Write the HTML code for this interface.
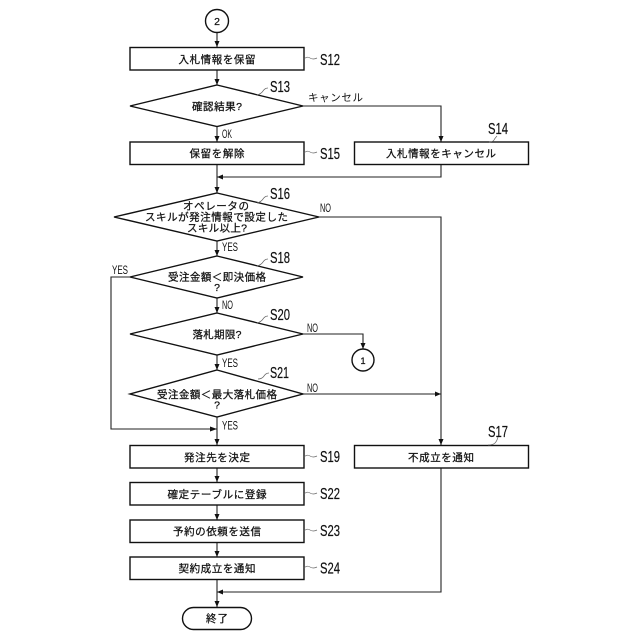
<!DOCTYPE html>
<html><head><meta charset="utf-8"><style>
html,body{margin:0;padding:0;background:#fff}
svg{display:block}
text{font-family:"Liberation Sans","Noto Sans CJK JP",sans-serif;fill:#111}
.j{font-size:10.5px;text-anchor:middle;stroke:#111;stroke-width:.25}
.s{font-size:16px;stroke:#111;stroke-width:.2}
.l{font-size:12px}
.b{fill:#fff;stroke:#111;stroke-width:1.4}
.c{fill:none;stroke:#222;stroke-width:1.1}
.w{fill:none;stroke:#666;stroke-width:.7}
.a{fill:#111;stroke:none}
</style></head><body>
<svg width="640" height="640" viewBox="0 0 640 640" xmlns="http://www.w3.org/2000/svg">
<!-- connectors -->
<path class="c" d="M217 32V47M217 70V85M217 126V142M217 164V193M441 165V177H217M217 241V256M217 298V313M217 355V370M217 417V445M217 468V482M217 505V520M217 542V557M217 579V607M441 468V592H217M303 106H441V142M319 217H441V445M303 334H363V349M303 394H441M130 277H111V429H217"/>
<!-- arrowheads -->
<path class="a" d="M214.500 41L219.500 41L217 47ZM214.500 79L219.500 79L217 85ZM214.500 136L219.500 136L217 142ZM438.500 136L443.500 136L441 142ZM223 174.500L223 179.500L217 177ZM214.500 187L219.500 187L217 193ZM214.500 250L219.500 250L217 256ZM214.500 307L219.500 307L217 313ZM214.500 364L219.500 364L217 370ZM360.500 343L365.500 343L363 349ZM435 391.500L435 396.500L441 394ZM210 426.500L210 431.500L217 429ZM214.500 439L219.500 439L217 445ZM438.500 439L443.500 439L441 445ZM214.500 476L219.500 476L217 482ZM214.500 514L219.500 514L217 520ZM214.500 551L219.500 551L217 557ZM214.500 601L219.500 601L217 607ZM223 589.500L223 594.500L217 592Z"/>
<!-- terminals -->
<circle class="b" cx="217" cy="21" r="11.500"/>
<circle class="b" cx="363" cy="360" r="11"/>
<rect class="b" x="182.500" y="607.500" width="69" height="22" rx="11"/>
<!-- boxes -->
<rect class="b" x="130" y="47.500" width="174" height="22.500"/>
<rect class="b" x="130" y="142" width="174" height="22.500"/>
<rect class="b" x="354.500" y="142" width="174" height="22.500"/>
<rect class="b" x="130" y="445.500" width="174" height="22.500"/>
<rect class="b" x="354.500" y="445.500" width="174" height="22.500"/>
<rect class="b" x="130" y="482.500" width="174" height="22.500"/>
<rect class="b" x="130" y="520" width="174" height="22.500"/>
<rect class="b" x="130" y="557" width="174" height="22.500"/>
<!-- diamonds -->
<polygon class="b" points="217,85 303,106 217,126.500 130,106"/>
<polygon class="b" points="217,193 319,217 217,241 114,217"/>
<polygon class="b" points="217,256 303,277 217,298 130,277"/>
<polygon class="b" points="217,313 303,334 217,355 130,334"/>
<polygon class="b" points="217,370 303,394 217,417 130,394"/>
<!-- node text -->
<text class="j" x="217" y="25">2</text>
<text class="j" x="363" y="364" style="font-size:9px">1</text>
<text class="j" x="217" y="63" textLength="77" lengthAdjust="spacing">入札情報を保留</text>
<text class="j" x="217" y="110" textLength="50">確認結果?</text>
<text class="j" x="217" y="157" textLength="55">保留を解除</text>
<text class="j" x="441" y="157" textLength="110">入札情報をキャンセル</text>
<text class="j" x="216" y="209.500" textLength="66">オペレータの</text>
<text class="j" x="216.500" y="220.500" textLength="143">スキルが発注情報で設定した</text>
<text class="j" x="217" y="231.500" textLength="60">スキル以上?</text>
<text class="j" x="217" y="280.500" textLength="98">受注金額＜即決価格</text>
<text class="j" x="217" y="291">?</text>
<text class="j" x="217" y="338" textLength="49">落札期限?</text>
<text class="j" x="217" y="398" textLength="120">受注金額＜最大落札価格</text>
<text class="j" x="217" y="408.500">?</text>
<text class="j" x="217" y="461" textLength="66">発注先を決定</text>
<text class="j" x="441" y="461" textLength="66">不成立を通知</text>
<text class="j" x="217" y="498" textLength="99">確定テーブルに登録</text>
<text class="j" x="217" y="535" textLength="88">予約の依頼を送信</text>
<text class="j" x="217" y="572" textLength="77">契約成立を通知</text>
<text class="j" x="217" y="622" textLength="22">終了</text>
<!-- connector labels -->
<text class="l" x="308" y="101" textLength="55" style="font-size:10.5px">キャンセル</text>
<text class="l" x="222" y="138" textLength="10" lengthAdjust="spacingAndGlyphs">OK</text>
<text class="l" x="320" y="212" textLength="11" lengthAdjust="spacingAndGlyphs">NO</text>
<text class="l" x="222" y="251" textLength="16" lengthAdjust="spacingAndGlyphs">YES</text>
<text class="l" x="112" y="274" textLength="16" lengthAdjust="spacingAndGlyphs">YES</text>
<text class="l" x="222" y="309" textLength="11" lengthAdjust="spacingAndGlyphs">NO</text>
<text class="l" x="307" y="332" textLength="11" lengthAdjust="spacingAndGlyphs">NO</text>
<text class="l" x="222" y="367" textLength="16" lengthAdjust="spacingAndGlyphs">YES</text>
<text class="l" x="307" y="392" textLength="11" lengthAdjust="spacingAndGlyphs">NO</text>
<text class="l" x="222" y="429.500" textLength="16" lengthAdjust="spacingAndGlyphs">YES</text>
<!-- step labels -->
<text class="s" x="320" y="65" textLength="20" lengthAdjust="spacingAndGlyphs">S12</text>
<text class="s" x="270" y="92" textLength="20" lengthAdjust="spacingAndGlyphs">S13</text>
<text class="s" x="488" y="134" textLength="20" lengthAdjust="spacingAndGlyphs">S14</text>
<text class="s" x="320" y="159" textLength="20" lengthAdjust="spacingAndGlyphs">S15</text>
<text class="s" x="270" y="199" textLength="20" lengthAdjust="spacingAndGlyphs">S16</text>
<text class="s" x="270" y="263" textLength="20" lengthAdjust="spacingAndGlyphs">S18</text>
<text class="s" x="270" y="320" textLength="20" lengthAdjust="spacingAndGlyphs">S20</text>
<text class="s" x="270" y="378" textLength="19" lengthAdjust="spacingAndGlyphs">S21</text>
<text class="s" x="488" y="437" textLength="20" lengthAdjust="spacingAndGlyphs">S17</text>
<text class="s" x="320" y="462" textLength="20" lengthAdjust="spacingAndGlyphs">S19</text>
<text class="s" x="320" y="499" textLength="20" lengthAdjust="spacingAndGlyphs">S22</text>
<text class="s" x="320" y="536" textLength="20" lengthAdjust="spacingAndGlyphs">S23</text>
<text class="s" x="320" y="573.500" textLength="20" lengthAdjust="spacingAndGlyphs">S24</text>
<!-- leader squiggles -->
<path class="w" d="M304 59q3 -3 6 -1t7 0M304 153q3 -3 6 -1t7 0M304 457q3 -3 6 -1t7 0M304 494q3 -3 6 -1t7 0M304 531q3 -3 6 -1t7 0M304 568q3 -3 6 -1t7 0"/>
<path class="w" d="M257 95q4 -1 6 -4t5 -3M257 203q4 -1 6 -4t5 -3M257 266q4 -1 6 -4t5 -3M257 323q4 -1 6 -4t5 -3M258 379q4 0 6 -3t5 -3M489 142q4 0 5 -2t3 -4M488 445q5 0 7 -2t3 -6"/>
</svg>
</body></html>
